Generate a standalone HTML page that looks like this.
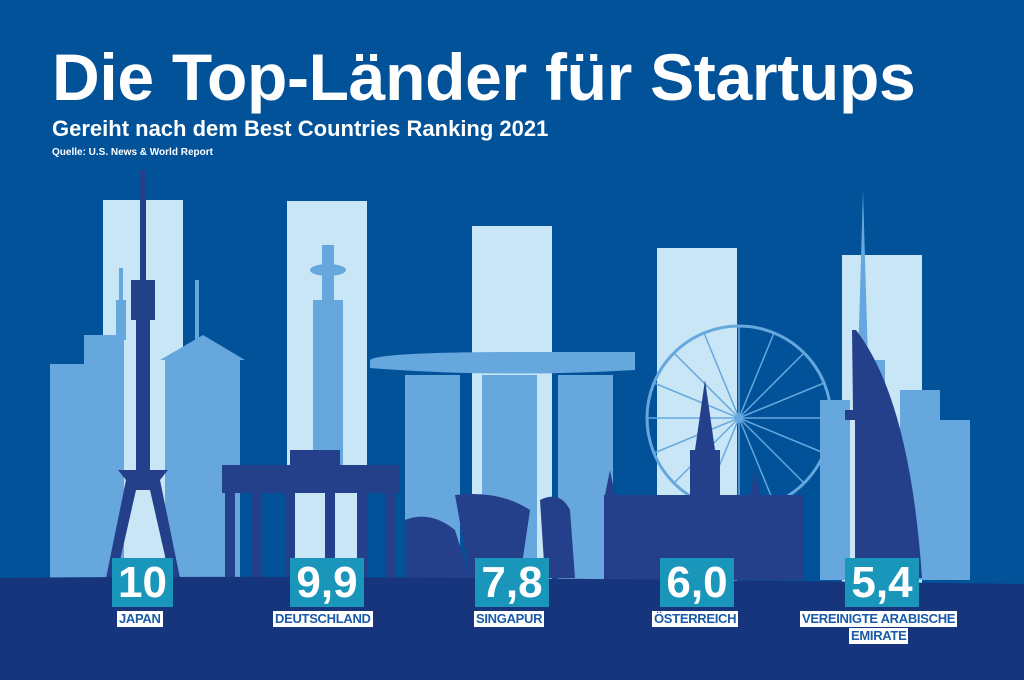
<!DOCTYPE html>
<html><head><meta charset="utf-8"><style>
body{margin:0;width:1024px;height:680px;overflow:hidden;background:#02529a;font-family:"Liberation Sans",sans-serif}
.t{position:absolute;color:#fff;font-weight:bold;white-space:nowrap}
.num{position:absolute;background:#1a96ba;color:#fff;font-weight:bold;font-size:44px;line-height:49px;height:49px;text-align:center;top:558px}
.lab{position:absolute;background:#fff;color:#1a5aa8;font-weight:bold;font-size:13px;line-height:16px;text-align:center;top:611px;padding:0 2px;white-space:nowrap;letter-spacing:-0.3px}
</style></head><body>
<div class="t" style="left:52px;top:42px;font-size:66px;line-height:70px;letter-spacing:-0.3px">Die Top-Länder für Startups</div>
<div class="t" style="left:52px;top:116px;font-size:22px">Gereiht nach dem Best Countries Ranking 2021</div>
<div class="t" style="left:52px;top:147px;font-size:10px">Quelle: U.S. News &amp; World Report</div>
<svg width="1024" height="680" style="position:absolute;left:0;top:0">
<g fill="#c8e6f5">
<rect x="103" y="200" width="80" height="380"/><rect x="287" y="201" width="80" height="380"/>
<rect x="472" y="226" width="80" height="360"/><rect x="657" y="248" width="80" height="340"/>
<rect x="842" y="255" width="80" height="330"/></g>
<g fill="#66a8de">
<rect x="50" y="364" width="40" height="215"/><rect x="84" y="335" width="40" height="244"/>
<rect x="116" y="300" width="10" height="40"/><rect x="119" y="268" width="4" height="35"/>
<rect x="165" y="360" width="75" height="220"/><path d="M160 360 L203 335 L245 360Z"/><rect x="195" y="280" width="4" height="60"/>
<rect x="313" y="300" width="30" height="180"/><ellipse cx="328" cy="270" rx="18" ry="6"/><rect x="322" y="245" width="12" height="55"/>
<rect x="405" y="375" width="55" height="205"/><rect x="482" y="375" width="55" height="205"/><rect x="558" y="375" width="55" height="205"/>
<path d="M370 360 Q380 352 520 352 L635 352 L635 370 Q500 378 370 368Z"/>
<rect x="855" y="360" width="30" height="220"/><path d="M858 360 L863 190 L868 360Z"/>
<rect x="900" y="390" width="40" height="190"/><rect x="930" y="420" width="40" height="160"/>
<rect x="820" y="400" width="30" height="180"/>
</g>
<g fill="none" stroke="#66a8de" stroke-width="3">
<circle cx="739" cy="418" r="92"/>
<g stroke-width="1.5"><path d="M739 326V510M647 418H831M674 353L804 483M674 483L804 353M704 333L774 503M774 333L704 503M654 383L824 453M654 453L824 383"/></g>
</g>
<g fill="#25408a">
<rect x="140" y="170" width="6" height="110"/><rect x="131" y="280" width="24" height="40"/><rect x="136" y="320" width="14" height="150"/>
<path d="M118 470 L168 470 L160 480 L180 578 L170 578 L150 490 L136 490 L116 578 L106 578 L126 480Z"/>
<rect x="222" y="465" width="178" height="28"/><rect x="290" y="450" width="50" height="15"/>
<rect x="225" y="493" width="10" height="85"/><rect x="252" y="493" width="10" height="85"/><rect x="285" y="493" width="10" height="85"/><rect x="325" y="493" width="10" height="85"/><rect x="357" y="493" width="10" height="85"/><rect x="385" y="493" width="10" height="85"/>
<path d="M405 520 Q430 510 455 530 L470 578 L405 578Z"/><path d="M455 495 Q500 490 530 510 L520 578 L470 578Z"/><path d="M540 500 Q560 490 570 510 L575 578 L545 578Z"/>
<rect x="604" y="495" width="200" height="85"/><rect x="690" y="450" width="30" height="130"/><path d="M695 450 L705 380 L715 450Z"/>
<path d="M604 500 L610 470 L616 500Z"/><path d="M750 495 L755 470 L760 495Z"/>
<path d="M852 330 L856 330 Q910 400 922 578 L855 578 L855 420 L845 420 L845 410 L853 410Z"/>
</g>
<path d="M0 578 Q300 574 1024 584 L1024 680 L0 680Z" fill="#16357c"/>
</svg>
<div class="num" style="left:112px;width:61px">10</div>
<div class="num" style="left:290px;width:74px">9,9</div>
<div class="num" style="left:475px;width:74px">7,8</div>
<div class="num" style="left:660px;width:74px">6,0</div>
<div class="num" style="left:845px;width:74px">5,4</div>
<div class="lab" style="left:117px">JAPAN</div>
<div class="lab" style="left:273px">DEUTSCHLAND</div>
<div class="lab" style="left:474px">SINGAPUR</div>
<div class="lab" style="left:652px">ÖSTERREICH</div>
<div class="lab" style="left:800px">VEREINIGTE ARABISCHE</div>
<div class="lab" style="left:849px;top:628px">EMIRATE</div>
</body></html>
